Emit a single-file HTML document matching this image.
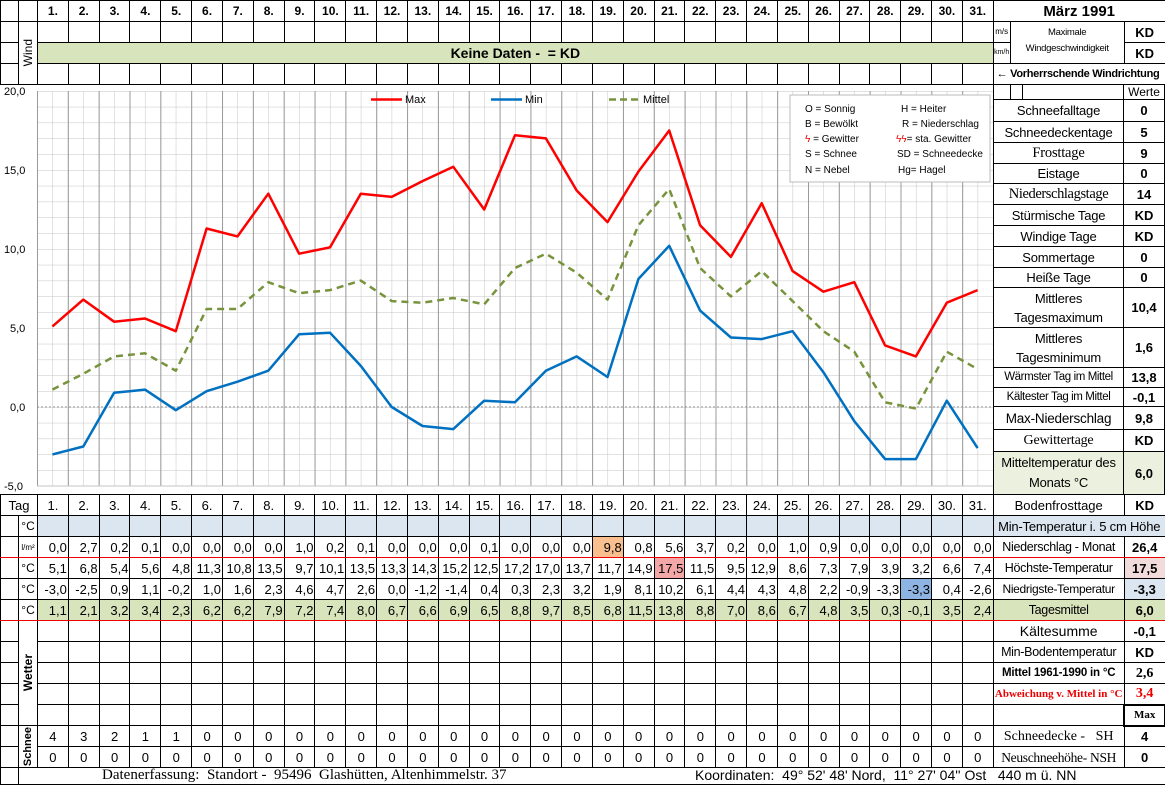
<!DOCTYPE html>
<html><head><meta charset="utf-8"><style>
*{margin:0;padding:0;box-sizing:border-box}
body{width:1165px;height:784px;position:relative;background:#fff;font-family:"Liberation Sans",sans-serif;overflow:hidden}
table{border-collapse:collapse;table-layout:fixed;position:absolute;left:0}
td{border:1px solid #000;padding:0;height:21px;font-size:13px;text-align:center;white-space:nowrap;overflow:hidden;line-height:19px}
#top td.d{font-weight:bold;font-size:12px}
#bot td.v{text-align:right;padding-right:1px;font-size:13px}
.g{background:#d8e4bc}.b{background:#dce6f1}
.u{font-size:12px}
.rl{font-size:12.5px;letter-spacing:-0.3px}
.val{font-weight:bold;font-size:13px}
.serif{font-family:"Liberation Serif",serif}
.rot{writing-mode:vertical-rl;transform:rotate(180deg);font-weight:bold;font-size:12px;margin:auto}
.rb td{border-bottom:1px solid #e00}
#rp{position:absolute;left:993px;top:84px;width:172px;height:410px;border-left:1px solid #000;border-right:1px solid #000}
#rp .r{display:flex;border-bottom:1px solid #000;width:100%}
#rp .l{width:130px;border-right:1px solid #000;display:flex;align-items:center;justify-content:center;text-align:center;font-size:13px;line-height:19px;letter-spacing:-0.2px;white-space:nowrap}
#rp .w{flex:1;display:flex;align-items:center;justify-content:center;font-weight:bold;font-size:13px}
</style></head><body>

<table id="top" style="top:0;width:1165px">
<colgroup><col style="width:18px"><col style="width:19px">
<col span="31" style="width:30.84px"><col style="width:131px"><col style="width:41px"></colgroup>
<tr><td></td><td></td>
<td class="d">1.</td><td class="d">2.</td><td class="d">3.</td><td class="d">4.</td><td class="d">5.</td><td class="d">6.</td><td class="d">7.</td><td class="d">8.</td><td class="d">9.</td><td class="d">10.</td><td class="d">11.</td><td class="d">12.</td><td class="d">13.</td><td class="d">14.</td><td class="d">15.</td><td class="d">16.</td><td class="d">17.</td><td class="d">18.</td><td class="d">19.</td><td class="d">20.</td><td class="d">21.</td><td class="d">22.</td><td class="d">23.</td><td class="d">24.</td><td class="d">25.</td><td class="d">26.</td><td class="d">27.</td><td class="d">28.</td><td class="d">29.</td><td class="d">30.</td><td class="d">31.</td>
<td colspan="2" style="font-weight:bold;font-size:15px">März 1991</td></tr>
<tr><td></td><td rowspan="3"><div class="rot" style="font-weight:normal;font-size:12px">Wind</div></td>
<td></td><td></td><td></td><td></td><td></td><td></td><td></td><td></td><td></td><td></td><td></td><td></td><td></td><td></td><td></td><td></td><td></td><td></td><td></td><td></td><td></td><td></td><td></td><td></td><td></td><td></td><td></td><td></td><td></td><td></td><td></td>
<td rowspan="2" style="position:relative"><div style="position:absolute;left:0;top:0;width:17px;height:21px;border-right:1px solid #000;border-bottom:1px solid #000;font-size:8px;line-height:20px">m/s</div><div style="position:absolute;left:0;top:21px;width:17px;height:21px;border-right:1px solid #000;font-size:7px;line-height:20px">km/h</div><div style="position:absolute;left:17px;right:0;top:3px;font-size:9.5px;line-height:16px;letter-spacing:-0.3px">Maximale<br>Windgeschwindigkeit</div></td>
<td class="val">KD</td></tr>
<tr><td></td><td colspan="31" class="g" style="font-weight:bold;font-size:14px">Keine Daten -&nbsp; = KD</td><td class="val">KD</td></tr>
<tr><td></td>
<td></td><td></td><td></td><td></td><td></td><td></td><td></td><td></td><td></td><td></td><td></td><td></td><td></td><td></td><td></td><td></td><td></td><td></td><td></td><td></td><td></td><td></td><td></td><td></td><td></td><td></td><td></td><td></td><td></td><td></td><td></td>
<td colspan="2" style="font-weight:bold;font-size:11px;letter-spacing:-0.3px;text-align:left;padding-left:3px">← Vorherrschende Windrichtung</td></tr>
</table>

<svg style="position:absolute;left:0;top:84px" width="993" height="410" viewBox="0 84 993 410">
<defs><pattern id="gr" x="37" y="91" width="15.42" height="15.8" patternUnits="userSpaceOnUse"><path d="M0 0H15.42M0 0V15.8" stroke="#c4c4c4" stroke-width="1" fill="none"/></pattern>
<pattern id="gd" x="37" y="91" width="30.84" height="395" patternUnits="userSpaceOnUse"><path d="M0.5 0V395" stroke="#9a9a9a" stroke-width="1"/></pattern></defs>
<rect x="37" y="91" width="956" height="395" fill="url(#gr)"/>
<rect x="37" y="91" width="956" height="395" fill="url(#gd)"/>
<line x1="37" y1="486" x2="993" y2="486" stroke="#c4c4c4"/>
<line x1="37" y1="407" x2="993" y2="407" stroke="#888" stroke-dasharray="2,2"/>
<g font-size="11" fill="#000" font-family="Liberation Sans">
<text x="4" y="95">20,0</text><text x="4" y="174">15,0</text><text x="4" y="253">10,0</text><text x="10" y="332">5,0</text><text x="10" y="411">0,0</text><text x="4" y="490">-5,0</text>
</g>
<polyline fill="none" stroke="#ff0000" stroke-width="2.5" stroke-linejoin="round" points="52.4,326.4 83.3,299.6 114.1,321.7 145,318.5 175.8,331.2 206.6,228.5 237.5,236.4 268.3,193.7 299.1,253.7 330,247.4 360.8,193.7 391.7,196.9 422.5,181.1 453.3,166.8 484.2,209.5 515,135.2 545.9,138.4 576.7,190.5 607.5,222.1 638.4,171.6 669.2,130.5 700.1,225.3 730.9,256.9 761.7,203.2 792.6,271.1 823.4,291.7 854.3,282.2 885.1,345.4 915.9,356.4 946.8,302.7 977.6,290.1"/>
<polyline fill="none" stroke="#0070c0" stroke-width="2.5" stroke-linejoin="round" points="52.4,454.4 83.3,446.5 114.1,392.8 145,389.6 175.8,410.2 206.6,391.2 237.5,381.7 268.3,370.7 299.1,334.3 330,332.7 360.8,365.9 391.7,407 422.5,426 453.3,429.1 484.2,400.7 515,402.3 545.9,370.7 576.7,356.4 607.5,377 638.4,279 669.2,245.8 700.1,310.6 730.9,337.5 761.7,339.1 792.6,331.2 823.4,372.2 854.3,421.2 885.1,459.1 915.9,459.1 946.8,400.7 977.6,448.1"/>
<polyline fill="none" stroke="#77933c" stroke-width="2.5" stroke-dasharray="7,5" stroke-linejoin="round" points="52.4,389.6 83.3,373.8 114.1,356.4 145,353.3 175.8,370.7 206.6,309 237.5,309 268.3,282.2 299.1,293.2 330,290.1 360.8,280.6 391.7,301.1 422.5,302.7 453.3,298 484.2,304.3 515,268 545.9,253.7 576.7,272.7 607.5,299.6 638.4,225.3 669.2,189 700.1,268 730.9,296.4 761.7,271.1 792.6,301.1 823.4,331.2 854.3,351.7 885.1,402.3 915.9,408.6 946.8,351.7 977.6,369.1"/>
<g font-size="11" font-family="Liberation Sans">
<line x1="371" y1="99.5" x2="402" y2="99.5" stroke="#ff0000" stroke-width="2.5"/><text x="405" y="103">Max</text>
<line x1="491" y1="99.5" x2="522" y2="99.5" stroke="#0070c0" stroke-width="2.5"/><text x="525" y="103">Min</text>
<line x1="609" y1="99.5" x2="638" y2="99.5" stroke="#77933c" stroke-width="2.5" stroke-dasharray="7,4"/><text x="643" y="103">Mittel</text>
</g>
<rect x="790" y="95" width="200" height="87" fill="#fff" stroke="#bbb"/>
<g font-size="10" font-family="Liberation Sans">
<text x="805" y="112">O = Sonnig</text><text x="901" y="112">H = Heiter</text>
<text x="805" y="127">B = Bewölkt</text><text x="902" y="127">R = Niederschlag</text>
<text x="805" y="142"><tspan fill="#e00">ϟ</tspan> = Gewitter</text><text x="896" y="142"><tspan fill="#e00">ϟϟ</tspan>= sta. Gewitter</text>
<text x="805" y="157">S = Schnee</text><text x="897" y="157">SD = Schneedecke</text>
<text x="805" y="173">N = Nebel</text><text x="898" y="173">Hg= Hagel</text>
</g>
</svg>

<div id="rp">
<div class="r" style="height:16px"><div class="l" style="justify-content:flex-start"><div style="width:17px;height:15px;border-right:1px solid #000"></div><div style="width:12px;height:15px;border-right:1px solid #000"></div></div><div class="w" style="font-weight:normal;font-size:12px">Werte</div></div>
<div class="r" style="height:22px"><div class="l">Schneefalltage</div><div class="w">0</div></div>
<div class="r" style="height:21px"><div class="l">Schneedeckentage</div><div class="w">5</div></div>
<div class="r" style="height:21px"><div class="l serif" style="font-size:14.5px">Frosttage</div><div class="w">9</div></div>
<div class="r" style="height:20px"><div class="l">Eistage</div><div class="w">0</div></div>
<div class="r" style="height:21px"><div class="l serif" style="font-size:14.5px;letter-spacing:-0.4px">Niederschlagstage</div><div class="w">14</div></div>
<div class="r" style="height:21px"><div class="l">Stürmische Tage</div><div class="w">KD</div></div>
<div class="r" style="height:21px"><div class="l">Windige Tage</div><div class="w">KD</div></div>
<div class="r" style="height:21px"><div class="l">Sommertage</div><div class="w">0</div></div>
<div class="r" style="height:20px"><div class="l">Heiße Tage</div><div class="w">0</div></div>
<div class="r" style="height:40px"><div class="l">Mittleres<br>Tagesmaximum</div><div class="w">10,4</div></div>
<div class="r" style="height:40px"><div class="l">Mittleres<br>Tagesminimum</div><div class="w">1,6</div></div>
<div class="r" style="height:20px"><div class="l" style="font-size:11.5px;letter-spacing:-0.4px">Wärmster Tag im Mittel</div><div class="w">13,8</div></div>
<div class="r" style="height:19px"><div class="l" style="font-size:11.5px;letter-spacing:-0.4px">Kältester Tag im Mittel</div><div class="w">-0,1</div></div>
<div class="r" style="height:23px"><div class="l" style="font-size:13.5px">Max-Niederschlag</div><div class="w">9,8</div></div>
<div class="r" style="height:22px"><div class="l serif" style="font-size:14px">Gewittertage</div><div class="w">KD</div></div>
<div class="r" style="height:42px;border-bottom:none;background:#ebf1de"><div class="l" style="line-height:20px">Mitteltemperatur des<br>Monats °C</div><div class="w">6,0</div></div>
</div>

<table id="bot" style="top:494px;width:1165px">
<colgroup><col style="width:18px"><col style="width:19px">
<col span="31" style="width:30.84px"><col style="width:131px"><col style="width:41px"></colgroup>
<tr><td colspan="2" style="font-size:13px">Tag</td>
<td>1.</td><td>2.</td><td>3.</td><td>4.</td><td>5.</td><td>6.</td><td>7.</td><td>8.</td><td>9.</td><td>10.</td><td>11.</td><td>12.</td><td>13.</td><td>14.</td><td>15.</td><td>16.</td><td>17.</td><td>18.</td><td>19.</td><td>20.</td><td>21.</td><td>22.</td><td>23.</td><td>24.</td><td>25.</td><td>26.</td><td>27.</td><td>28.</td><td>29.</td><td>30.</td><td>31.</td>
<td style="font-size:13px">Bodenfrosttage</td><td class="val">KD</td></tr>
<tr><td></td><td class="u">°C</td>
<td class="b"></td><td class="b"></td><td class="b"></td><td class="b"></td><td class="b"></td><td class="b"></td><td class="b"></td><td class="b"></td><td class="b"></td><td class="b"></td><td class="b"></td><td class="b"></td><td class="b"></td><td class="b"></td><td class="b"></td><td class="b"></td><td class="b"></td><td class="b"></td><td class="b"></td><td class="b"></td><td class="b"></td><td class="b"></td><td class="b"></td><td class="b"></td><td class="b"></td><td class="b"></td><td class="b"></td><td class="b"></td><td class="b"></td><td class="b"></td><td class="b"></td>
<td colspan="2" class="b" style="font-size:13px;letter-spacing:-0.2px">Min-Temperatur i. 5 cm Höhe</td></tr>
<tr class="rb"><td></td><td style="font-size:8px">l/m²</td>
<td class="v">0,0</td><td class="v">2,7</td><td class="v">0,2</td><td class="v">0,1</td><td class="v">0,0</td><td class="v">0,0</td><td class="v">0,0</td><td class="v">0,0</td><td class="v">1,0</td><td class="v">0,2</td><td class="v">0,1</td><td class="v">0,0</td><td class="v">0,0</td><td class="v">0,0</td><td class="v">0,1</td><td class="v">0,0</td><td class="v">0,0</td><td class="v">0,0</td><td class="v" style="background:#fabf8f">9,8</td><td class="v">0,8</td><td class="v">5,6</td><td class="v">3,7</td><td class="v">0,2</td><td class="v">0,0</td><td class="v">1,0</td><td class="v">0,9</td><td class="v">0,0</td><td class="v">0,0</td><td class="v">0,0</td><td class="v">0,0</td><td class="v">0,0</td>
<td class="rl">Niederschlag - Monat</td><td class="val">26,4</td></tr>
<tr><td></td><td class="u">°C</td>
<td class="v">5,1</td><td class="v">6,8</td><td class="v">5,4</td><td class="v">5,6</td><td class="v">4,8</td><td class="v">11,3</td><td class="v">10,8</td><td class="v">13,5</td><td class="v">9,7</td><td class="v">10,1</td><td class="v">13,5</td><td class="v">13,3</td><td class="v">14,3</td><td class="v">15,2</td><td class="v">12,5</td><td class="v">17,2</td><td class="v">17,0</td><td class="v">13,7</td><td class="v">11,7</td><td class="v">14,9</td><td class="v" style="background:#f4a7a7">17,5</td><td class="v">11,5</td><td class="v">9,5</td><td class="v">12,9</td><td class="v">8,6</td><td class="v">7,3</td><td class="v">7,9</td><td class="v">3,9</td><td class="v">3,2</td><td class="v">6,6</td><td class="v">7,4</td>
<td class="rl">Höchste-Temperatur</td><td class="val" style="background:#f2dcdb">17,5</td></tr>
<tr><td></td><td class="u">°C</td>
<td class="v">-3,0</td><td class="v">-2,5</td><td class="v">0,9</td><td class="v">1,1</td><td class="v">-0,2</td><td class="v">1,0</td><td class="v">1,6</td><td class="v">2,3</td><td class="v">4,6</td><td class="v">4,7</td><td class="v">2,6</td><td class="v">0,0</td><td class="v">-1,2</td><td class="v">-1,4</td><td class="v">0,4</td><td class="v">0,3</td><td class="v">2,3</td><td class="v">3,2</td><td class="v">1,9</td><td class="v">8,1</td><td class="v">10,2</td><td class="v">6,1</td><td class="v">4,4</td><td class="v">4,3</td><td class="v">4,8</td><td class="v">2,2</td><td class="v">-0,9</td><td class="v">-3,3</td><td class="v" style="background:#8db4e2">-3,3</td><td class="v">0,4</td><td class="v">-2,6</td>
<td class="rl" style="font-size:12px">Niedrigste-Temperatur</td><td class="val b">-3,3</td></tr>
<tr class="rb"><td></td><td class="u">°C</td>
<td class="v g">1,1</td><td class="v g">2,1</td><td class="v g">3,2</td><td class="v g">3,4</td><td class="v g">2,3</td><td class="v g">6,2</td><td class="v g">6,2</td><td class="v g">7,9</td><td class="v g">7,2</td><td class="v g">7,4</td><td class="v g">8,0</td><td class="v g">6,7</td><td class="v g">6,6</td><td class="v g">6,9</td><td class="v g">6,5</td><td class="v g">8,8</td><td class="v g">9,7</td><td class="v g">8,5</td><td class="v g">6,8</td><td class="v g">11,5</td><td class="v g">13,8</td><td class="v g">8,8</td><td class="v g">7,0</td><td class="v g">8,6</td><td class="v g">6,7</td><td class="v g">4,8</td><td class="v g">3,5</td><td class="v g">0,3</td><td class="v g">-0,1</td><td class="v g">3,5</td><td class="v g">2,4</td>
<td class="rl g">Tagesmittel</td><td class="val g">6,0</td></tr>
<tr><td></td><td rowspan="5"><div class="rot">Wetter</div></td>
<td></td><td></td><td></td><td></td><td></td><td></td><td></td><td></td><td></td><td></td><td></td><td></td><td></td><td></td><td></td><td></td><td></td><td></td><td></td><td></td><td></td><td></td><td></td><td></td><td></td><td></td><td></td><td></td><td></td><td></td><td></td>
<td style="font-size:14px">Kältesumme</td><td class="val">-0,1</td></tr>
<tr><td></td>
<td></td><td></td><td></td><td></td><td></td><td></td><td></td><td></td><td></td><td></td><td></td><td></td><td></td><td></td><td></td><td></td><td></td><td></td><td></td><td></td><td></td><td></td><td></td><td></td><td></td><td></td><td></td><td></td><td></td><td></td><td></td>
<td class="rl">Min-Bodentemperatur</td><td class="val">KD</td></tr>
<tr><td></td>
<td></td><td></td><td></td><td></td><td></td><td></td><td></td><td></td><td></td><td></td><td></td><td></td><td></td><td></td><td></td><td></td><td></td><td></td><td></td><td></td><td></td><td></td><td></td><td></td><td></td><td></td><td></td><td></td><td></td><td></td><td></td>
<td style="font-weight:bold;font-size:11.5px;letter-spacing:-0.2px">Mittel 1961-1990 in °C</td><td class="val serif" style="font-size:14px">2,6</td></tr>
<tr><td></td>
<td></td><td></td><td></td><td></td><td></td><td></td><td></td><td></td><td></td><td></td><td></td><td></td><td></td><td></td><td></td><td></td><td></td><td></td><td></td><td></td><td></td><td></td><td></td><td></td><td></td><td></td><td></td><td></td><td></td><td></td><td></td>
<td class="serif" style="font-weight:bold;font-size:11px;color:#e00">Abweichung v. Mittel in °C</td><td class="val serif" style="font-size:14px;color:#e00">3,4</td></tr>
<tr><td></td>
<td></td><td></td><td></td><td></td><td></td><td></td><td></td><td></td><td></td><td></td><td></td><td></td><td></td><td></td><td></td><td></td><td></td><td></td><td></td><td></td><td></td><td></td><td></td><td></td><td></td><td></td><td></td><td></td><td></td><td></td><td></td>
<td></td><td class="serif" style="font-weight:bold;font-size:11px;border:2px solid #000">Max</td></tr>
<tr><td></td><td rowspan="2"><div class="rot" style="font-size:11px">Schnee</div></td>
<td>4</td><td>3</td><td>2</td><td>1</td><td>1</td><td>0</td><td>0</td><td>0</td><td>0</td><td>0</td><td>0</td><td>0</td><td>0</td><td>0</td><td>0</td><td>0</td><td>0</td><td>0</td><td>0</td><td>0</td><td>0</td><td>0</td><td>0</td><td>0</td><td>0</td><td>0</td><td>0</td><td>0</td><td>0</td><td>0</td><td>0</td>
<td class="serif" style="font-size:14px">Schneedecke -&nbsp;&nbsp; SH</td><td class="val">4</td></tr>
<tr><td></td>
<td>0</td><td>0</td><td>0</td><td>0</td><td>0</td><td>0</td><td>0</td><td>0</td><td>0</td><td>0</td><td>0</td><td>0</td><td>0</td><td>0</td><td>0</td><td>0</td><td>0</td><td>0</td><td>0</td><td>0</td><td>0</td><td>0</td><td>0</td><td>0</td><td>0</td><td>0</td><td>0</td><td>0</td><td>0</td><td>0</td><td>0</td>
<td class="serif" style="font-size:13.5px;letter-spacing:-0.3px">Neuschneehöhe- NSH</td><td class="val">0</td></tr>
<tr><td style="height:17px"></td><td colspan="34" style="height:17px;position:relative;font-family:'Liberation Serif',serif;font-size:15px;line-height:15px;text-align:left">
<span style="position:absolute;left:83px;top:0">Datenerfassung:&nbsp; Standort -&nbsp; 95496&nbsp; Glashütten, Altenhimmelstr. 37</span>
<span style="position:absolute;left:676px;top:0;font-family:'Liberation Sans',sans-serif;font-size:14px">Koordinaten:&nbsp; 49° 52' 48' Nord,&nbsp; 11° 27' 04'' Ost&nbsp;&nbsp; 440 m ü. NN</span></td></tr>
</table>
</body></html>
